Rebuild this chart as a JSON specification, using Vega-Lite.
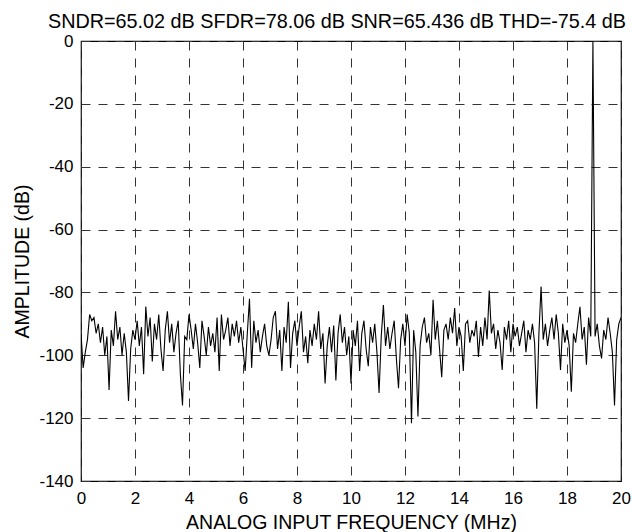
{
  "$schema": "https://vega.github.io/schema/vega-lite/v6.json",
  "width": 540,
  "height": 440,
  "autosize": {"type": "none"},
  "padding": {"left": 81, "top": 41, "right": 11, "bottom": 51},
  "title": {
    "text": "SNDR=65.02 dB SFDR=78.06 dB SNR=65.436 dB THD=-75.4 dB",
    "font": "Liberation Sans",
    "fontSize": 19.8,
    "fontWeight": "normal",
    "color": "#000",
    "anchor": "middle",
    "frame": "group",
    "dx": -14,
    "baseline": "alphabetic",
    "offset": -16
  },
  "config": {
    "view": {"stroke": "#000", "strokeWidth": 1.2},
    "font": "Liberation Sans",
    "axis": {
      "labelFont": "Liberation Sans",
      "titleFont": "Liberation Sans",
      "labelFontSize": 17,
      "titleFontSize": 19.5,
      "titleFontWeight": "normal",
      "labelColor": "#000",
      "titleColor": "#000",
      "domain": false,
      "ticks": false,
      "grid": true,
      "gridColor": "#333",
      "gridWidth": 1,
      "gridDash": [9, 8],
      "gridOpacity": 1
    }
  },
  "data": {
    "values": [
      {"f": 0.00, "a": -93}, {"f": 0.08, "a": -104}, {"f": 0.16, "a": -99}, {"f": 0.24, "a": -95}, {"f": 0.32, "a": -87},
      {"f": 0.40, "a": -89}, {"f": 0.48, "a": -88}, {"f": 0.56, "a": -93}, {"f": 0.64, "a": -90}, {"f": 0.72, "a": -96},
      {"f": 0.80, "a": -91}, {"f": 0.88, "a": -100}, {"f": 0.96, "a": -94}, {"f": 1.04, "a": -111}, {"f": 1.12, "a": -92},
      {"f": 1.20, "a": -97}, {"f": 1.28, "a": -86}, {"f": 1.36, "a": -95}, {"f": 1.44, "a": -91}, {"f": 1.52, "a": -100},
      {"f": 1.60, "a": -93}, {"f": 1.68, "a": -99}, {"f": 1.76, "a": -114.5}, {"f": 1.84, "a": -98}, {"f": 1.92, "a": -92},
      {"f": 2.00, "a": -95}, {"f": 2.08, "a": -89}, {"f": 2.16, "a": -97}, {"f": 2.24, "a": -91}, {"f": 2.32, "a": -106},
      {"f": 2.40, "a": -84.5}, {"f": 2.48, "a": -94}, {"f": 2.56, "a": -88}, {"f": 2.64, "a": -102}, {"f": 2.72, "a": -90},
      {"f": 2.80, "a": -95}, {"f": 2.88, "a": -87}, {"f": 2.96, "a": -98}, {"f": 3.04, "a": -105}, {"f": 3.12, "a": -92},
      {"f": 3.20, "a": -86}, {"f": 3.28, "a": -96}, {"f": 3.36, "a": -90}, {"f": 3.44, "a": -99}, {"f": 3.52, "a": -93},
      {"f": 3.60, "a": -89}, {"f": 3.68, "a": -106}, {"f": 3.76, "a": -116}, {"f": 3.84, "a": -94}, {"f": 3.92, "a": -95},
      {"f": 4.00, "a": -87}, {"f": 4.08, "a": -92}, {"f": 4.16, "a": -98}, {"f": 4.24, "a": -90}, {"f": 4.32, "a": -96},
      {"f": 4.40, "a": -104}, {"f": 4.48, "a": -89}, {"f": 4.56, "a": -94}, {"f": 4.64, "a": -100}, {"f": 4.72, "a": -91},
      {"f": 4.80, "a": -97}, {"f": 4.88, "a": -93}, {"f": 4.96, "a": -99}, {"f": 5.04, "a": -88}, {"f": 5.12, "a": -105},
      {"f": 5.20, "a": -87}, {"f": 5.28, "a": -95}, {"f": 5.36, "a": -92}, {"f": 5.44, "a": -88}, {"f": 5.52, "a": -97},
      {"f": 5.60, "a": -90}, {"f": 5.68, "a": -94}, {"f": 5.76, "a": -89}, {"f": 5.84, "a": -96}, {"f": 5.92, "a": -91},
      {"f": 6.00, "a": -98}, {"f": 6.08, "a": -105}, {"f": 6.16, "a": -93}, {"f": 6.24, "a": -82}, {"f": 6.32, "a": -104},
      {"f": 6.40, "a": -89}, {"f": 6.48, "a": -96}, {"f": 6.56, "a": -92}, {"f": 6.64, "a": -99}, {"f": 6.72, "a": -94},
      {"f": 6.80, "a": -90}, {"f": 6.88, "a": -97}, {"f": 6.96, "a": -100}, {"f": 7.04, "a": -95}, {"f": 7.12, "a": -88},
      {"f": 7.20, "a": -86}, {"f": 7.28, "a": -98}, {"f": 7.36, "a": -92}, {"f": 7.44, "a": -105}, {"f": 7.52, "a": -91},
      {"f": 7.60, "a": -96}, {"f": 7.68, "a": -83}, {"f": 7.76, "a": -104}, {"f": 7.84, "a": -93}, {"f": 7.92, "a": -89},
      {"f": 8.00, "a": -97}, {"f": 8.08, "a": -91}, {"f": 8.16, "a": -86}, {"f": 8.24, "a": -99}, {"f": 8.32, "a": -94},
      {"f": 8.40, "a": -102.5}, {"f": 8.48, "a": -92}, {"f": 8.56, "a": -97}, {"f": 8.64, "a": -90}, {"f": 8.72, "a": -95},
      {"f": 8.80, "a": -86}, {"f": 8.88, "a": -98}, {"f": 8.96, "a": -93}, {"f": 9.04, "a": -109}, {"f": 9.12, "a": -97},
      {"f": 9.20, "a": -91}, {"f": 9.28, "a": -99}, {"f": 9.36, "a": -90.5}, {"f": 9.44, "a": -108}, {"f": 9.52, "a": -93},
      {"f": 9.60, "a": -87}, {"f": 9.68, "a": -96}, {"f": 9.76, "a": -91}, {"f": 9.84, "a": -100}, {"f": 9.92, "a": -94},
      {"f": 10.00, "a": -109}, {"f": 10.08, "a": -92}, {"f": 10.16, "a": -97}, {"f": 10.24, "a": -89}, {"f": 10.32, "a": -105},
      {"f": 10.40, "a": -93}, {"f": 10.48, "a": -89}, {"f": 10.56, "a": -98}, {"f": 10.64, "a": -103.5}, {"f": 10.72, "a": -91},
      {"f": 10.80, "a": -96}, {"f": 10.88, "a": -90}, {"f": 10.96, "a": -99}, {"f": 11.04, "a": -112}, {"f": 11.12, "a": -94},
      {"f": 11.20, "a": -84}, {"f": 11.28, "a": -97}, {"f": 11.36, "a": -91}, {"f": 11.44, "a": -98}, {"f": 11.52, "a": -93},
      {"f": 11.60, "a": -89}, {"f": 11.68, "a": -101}, {"f": 11.76, "a": -110.5}, {"f": 11.84, "a": -95}, {"f": 11.92, "a": -90},
      {"f": 12.00, "a": -97}, {"f": 12.08, "a": -87}, {"f": 12.16, "a": -93}, {"f": 12.24, "a": -121.6}, {"f": 12.32, "a": -92},
      {"f": 12.40, "a": -99}, {"f": 12.48, "a": -119.5}, {"f": 12.56, "a": -97}, {"f": 12.64, "a": -91}, {"f": 12.72, "a": -88},
      {"f": 12.80, "a": -96}, {"f": 12.88, "a": -93}, {"f": 12.96, "a": -100}, {"f": 13.04, "a": -82.3}, {"f": 13.12, "a": -95},
      {"f": 13.20, "a": -89}, {"f": 13.28, "a": -98}, {"f": 13.36, "a": -107}, {"f": 13.44, "a": -92}, {"f": 13.52, "a": -90},
      {"f": 13.60, "a": -95}, {"f": 13.68, "a": -88}, {"f": 13.76, "a": -93}, {"f": 13.84, "a": -85}, {"f": 13.92, "a": -97},
      {"f": 14.00, "a": -91}, {"f": 14.08, "a": -94}, {"f": 14.16, "a": -105}, {"f": 14.24, "a": -90}, {"f": 14.32, "a": -89},
      {"f": 14.40, "a": -96}, {"f": 14.48, "a": -92}, {"f": 14.56, "a": -94}, {"f": 14.64, "a": -89}, {"f": 14.72, "a": -100.5},
      {"f": 14.80, "a": -91}, {"f": 14.88, "a": -97}, {"f": 14.96, "a": -88}, {"f": 15.04, "a": -95}, {"f": 15.12, "a": -79.4},
      {"f": 15.20, "a": -93}, {"f": 15.28, "a": -90}, {"f": 15.36, "a": -98}, {"f": 15.44, "a": -92}, {"f": 15.52, "a": -96},
      {"f": 15.60, "a": -104.7}, {"f": 15.68, "a": -91}, {"f": 15.76, "a": -95}, {"f": 15.84, "a": -89}, {"f": 15.92, "a": -99},
      {"f": 16.00, "a": -90}, {"f": 16.08, "a": -94}, {"f": 16.16, "a": -91}, {"f": 16.24, "a": -97}, {"f": 16.32, "a": -93},
      {"f": 16.40, "a": -89}, {"f": 16.48, "a": -99}, {"f": 16.56, "a": -92}, {"f": 16.64, "a": -95}, {"f": 16.72, "a": -90},
      {"f": 16.80, "a": -96}, {"f": 16.88, "a": -117}, {"f": 16.96, "a": -93}, {"f": 17.04, "a": -78.1}, {"f": 17.12, "a": -95},
      {"f": 17.20, "a": -90}, {"f": 17.28, "a": -97}, {"f": 17.36, "a": -92}, {"f": 17.44, "a": -88}, {"f": 17.52, "a": -95},
      {"f": 17.60, "a": -87}, {"f": 17.68, "a": -93}, {"f": 17.76, "a": -104.7}, {"f": 17.84, "a": -90}, {"f": 17.92, "a": -96},
      {"f": 18.00, "a": -92}, {"f": 18.08, "a": -97}, {"f": 18.16, "a": -111.6}, {"f": 18.24, "a": -93}, {"f": 18.32, "a": -96},
      {"f": 18.40, "a": -90}, {"f": 18.48, "a": -84.6}, {"f": 18.56, "a": -95}, {"f": 18.64, "a": -91}, {"f": 18.72, "a": -103},
      {"f": 18.80, "a": -88}, {"f": 18.88, "a": -94}, {"f": 18.96, "a": 0}, {"f": 19.04, "a": -94}, {"f": 19.12, "a": -90},
      {"f": 19.20, "a": -97}, {"f": 19.28, "a": -101}, {"f": 19.36, "a": -92}, {"f": 19.44, "a": -95}, {"f": 19.52, "a": -88},
      {"f": 19.60, "a": -93}, {"f": 19.68, "a": -99}, {"f": 19.76, "a": -116}, {"f": 19.84, "a": -95}, {"f": 19.92, "a": -90},
      {"f": 20.00, "a": -88}
    ]
  },
  "mark": {"type": "line", "color": "#000", "strokeWidth": 1.1, "clip": true},
  "encoding": {
    "x": {
      "field": "f",
      "type": "quantitative",
      "scale": {"domain": [0, 20], "nice": false, "zero": false},
      "axis": {
        "values": [0, 2, 4, 6, 8, 10, 12, 14, 16, 18, 20],
        "title": "ANALOG INPUT FREQUENCY (MHz)",
        "labelPadding": 9,
        "titlePadding": 7,
        "labelFlush": false
      }
    },
    "y": {
      "field": "a",
      "type": "quantitative",
      "scale": {"domain": [-140, 0], "nice": false, "zero": false},
      "axis": {
        "values": [-140, -120, -100, -80, -60, -40, -20, 0],
        "labelExpr": "'' + datum.value",
        "title": "AMPLITUDE (dB)",
        "labelPadding": 8,
        "titlePadding": 6,
        "labelFlush": false
      }
    }
  }
}
